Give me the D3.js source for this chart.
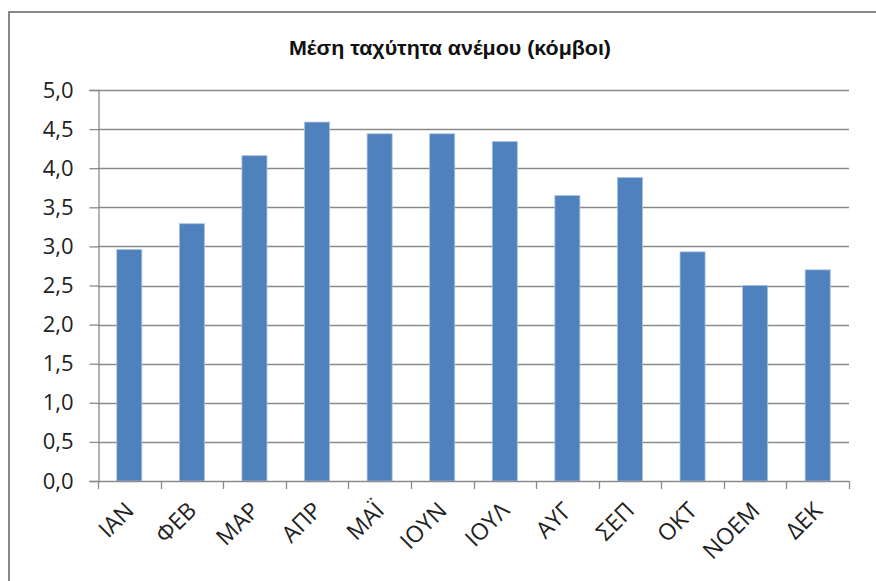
<!DOCTYPE html>
<html><head><meta charset="utf-8">
<script src="https://cdn.jsdelivr.net/npm/d3@7"></script>
<style>body{margin:0;background:#fff}svg{display:block}</style>
</head><body>
<svg id="chart" width="876" height="581"></svg>
<script>
const title = "Μέση ταχύτητα ανέμου (κόμβοι)";
const months = ["ΙΑΝ","ΦΕΒ","ΜΑΡ","ΑΠΡ","ΜΑΪ","ΙΟΥΝ","ΙΟΥΛ","ΑΥΓ","ΣΕΠ","ΟΚΤ","ΝΟΕΜ","ΔΕΚ"];
const speeds = [2.96, 3.29, 4.16, 4.59, 4.44, 4.44, 4.34, 3.65, 3.88, 2.93, 2.50, 2.70];
const yTicks = [0,0.5,1,1.5,2,2.5,3,3.5,4,4.5,5];

const svg = d3.select("#chart");
const L = 98, R = 849, T = 90, B = 481;
const grid = "#8a8a8a";
const font = "Open Sans, Lato, sans-serif";

// outer frame
svg.append("rect").attr("x",9).attr("y",12).attr("width",900).attr("height",600)
  .attr("fill","none").attr("stroke","#878787").attr("stroke-width",2);

const x = d3.scaleBand().domain(months).range([L,R]).padding(0);
const y = d3.scaleLinear().domain([0,5]).range([B,T]);

// gridlines
svg.append("g").selectAll("line").data(yTicks.filter(d=>d>0)).join("line")
  .attr("x1",L).attr("x2",R).attr("y1",d=>Math.round(y(d))+0.5).attr("y2",d=>Math.round(y(d))+0.5)
  .attr("stroke",grid).attr("stroke-width",1.3);

// bars
const bw = x.bandwidth()/2.5;
svg.append("g").selectAll("rect").data(months).join("rect")
  .attr("x",(d)=>x(d)+x.bandwidth()/2-bw/2)
  .attr("width",bw)
  .attr("y",(d,i)=>y(speeds[i]))
  .attr("height",(d,i)=>B-y(speeds[i]))
  .attr("fill","#4f81bd").attr("stroke","#a9c1e0").attr("stroke-width",0.8);

// y axis
const yAxis = d3.axisLeft(y).tickValues(yTicks).tickSize(9).tickPadding(16)
  .tickFormat(d=>d3.format(".1f")(d).replace(".",","));
const gy = svg.append("g").attr("transform",`translate(${L+0.5},0)`).call(yAxis);
gy.select(".domain").attr("stroke",grid).attr("stroke-width",1.3);
gy.selectAll(".tick line").attr("stroke",grid).attr("stroke-width",1.3);
gy.selectAll(".tick text").attr("font-family",font).attr("font-size",22).attr("fill","#222");

// x axis line and ticks at band boundaries
const gx = svg.append("g");
gx.append("line").attr("x1",L).attr("x2",R).attr("y1",B+0.5).attr("y2",B+0.5)
  .attr("stroke",grid).attr("stroke-width",1.3);
const bounds = months.map(m=>x(m)).concat([x(months[months.length-1])+x.bandwidth()]);
gx.selectAll("line.t").data(bounds).join("line").attr("class","t")
  .attr("x1",d=>Math.round(d)+0.5).attr("x2",d=>Math.round(d)+0.5)
  .attr("y1",B).attr("y2",B+8).attr("stroke",grid).attr("stroke-width",1.3);
gx.selectAll("text").data(months).join("text")
  .attr("transform",d=>`translate(${x(d)+x.bandwidth()/2+6},${B+31}) rotate(-45)`)
  .attr("text-anchor","end")
  .attr("font-family",font).attr("font-size",23).attr("fill","#222")
  .text(d=>d);

// title
svg.append("text").attr("x",450).attr("y",55).attr("text-anchor","middle")
  .attr("font-family","Liberation Sans, Arial, sans-serif").attr("font-weight","bold")
  .attr("font-size",20).attr("fill","#111")
  .attr("textLength",322).attr("lengthAdjust","spacingAndGlyphs").text(title);
</script>
</body></html>
